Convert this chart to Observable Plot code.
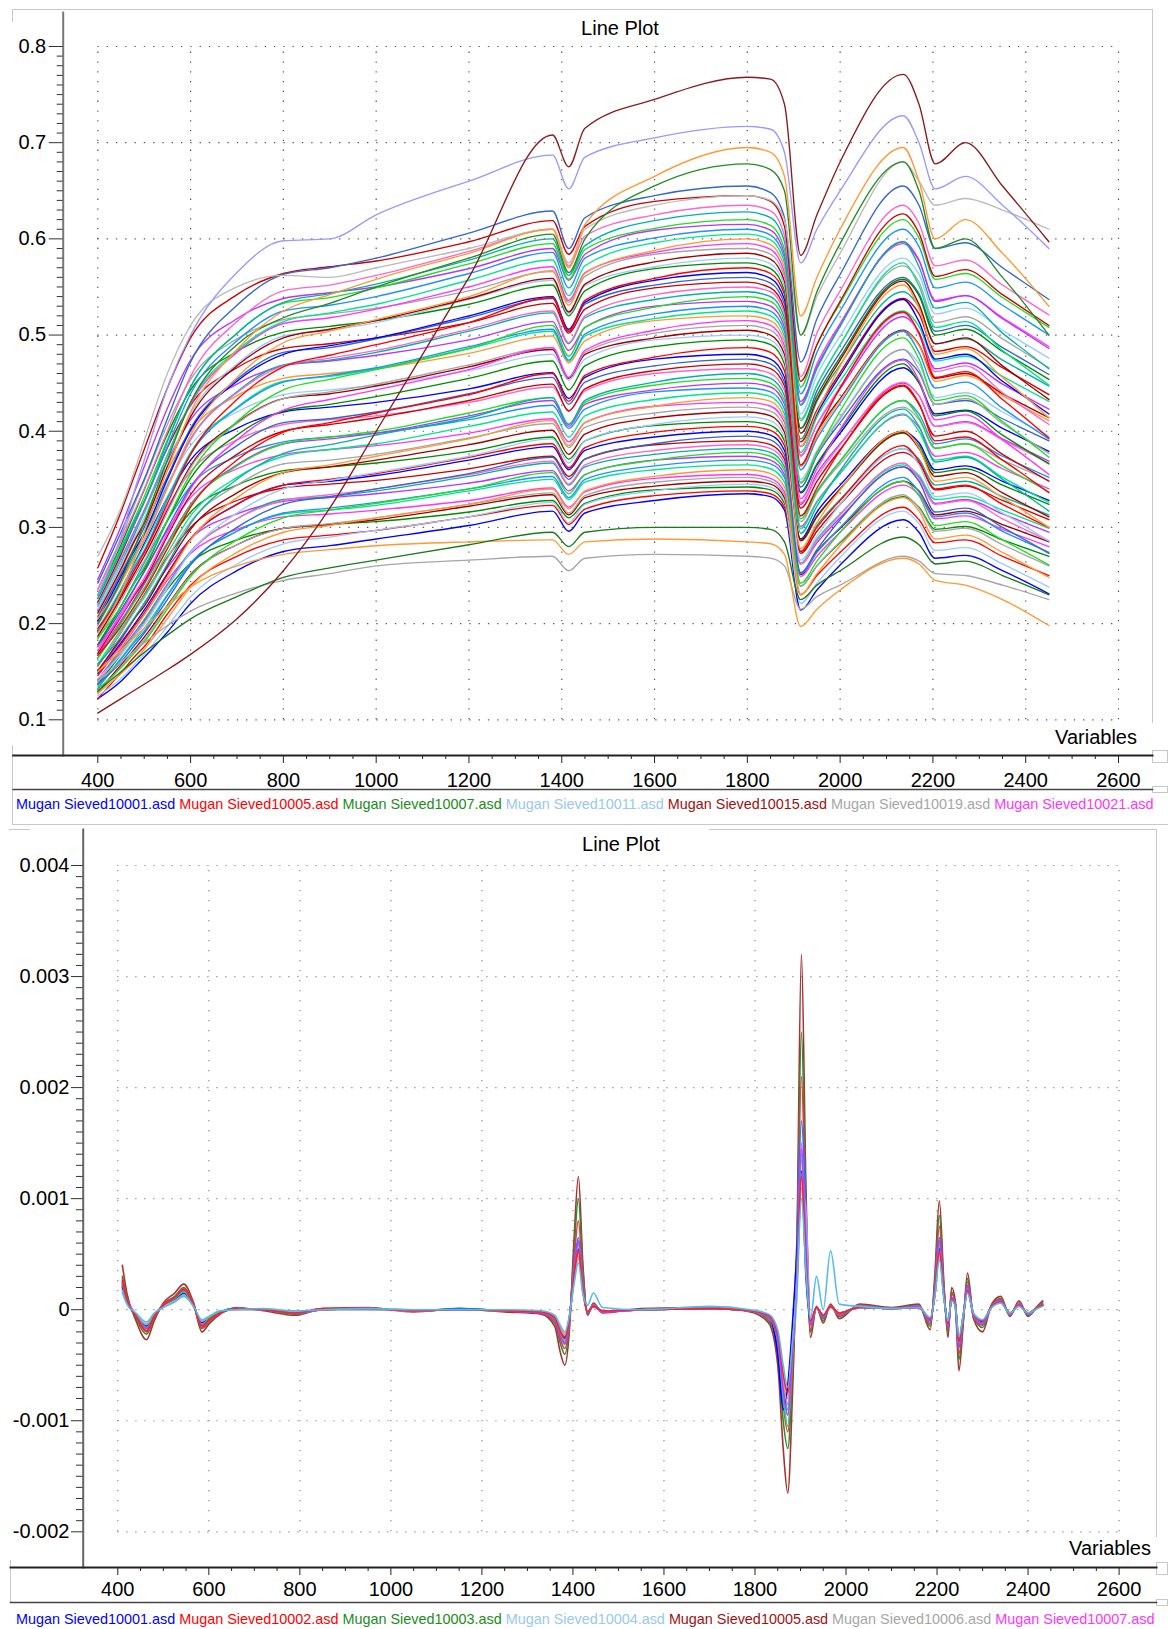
<!DOCTYPE html>
<html>
<head>
<meta charset="utf-8">
<script src="https://cdn.jsdelivr.net/npm/d3@7"></script>
<script src="https://cdn.jsdelivr.net/npm/@observablehq/plot@0.6"></script>
<style>
  body { margin: 0; background: #fff; }
  #wrap { position: relative; width: 1168px; height: 1629px; overflow: hidden; background: #fff;
          font-family: "Liberation Sans", Arial, sans-serif; color: #000; }
  .abs { position: absolute; }
  .ttl { font-size: 20px; line-height: 1; transform: translate(-50%, -50%); white-space: nowrap; }
  .var { font-size: 20px; line-height: 1; transform: translate(-100%, -50%); white-space: nowrap; }
  .leg { font-size: 14.4px; line-height: 1; transform: translateY(-50%); white-space: pre; }
  .hl { position: absolute; height: 0; border-top: 1px solid #c8c8c8; }
  .vl { position: absolute; width: 0; border-left: 1px solid #c8c8c8; }
  .bx { position: absolute; border: 1px solid #c8c8c8; background: #fff; box-sizing: border-box; }
</style>
</head>
<body>
<div id="wrap"></div>
<script>
// ---------------- TOP CHART DATA (reflectance spectra) ----------------
const topWavelengths = [400,450,480,500,550,600,700,800,900,1000,1200,1380,1415,1450,1600,1800,1850,1880,1915,1950,2000,2136,2170,2205,2270,2350,2450];

const t01 = [.122,.140,.155,.165,.191,.221,.255,.275,.281,.288,.302,.317,.296,.315,.328,.335,.332,.318,.214,.235,.261,.308,.295,.268,.271,.255,.231];
const t02 = [.122,.149,.166,.176,.210,.240,.270,.287,.292,.297,.311,.323,.303,.319,.333,.338,.335,.321,.230,.250,.274,.321,.308,.284,.287,.270,.250];
const t03 = [.137,.168,.188,.202,.236,.263,.287,.299,.303,.306,.316,.328,.310,.325,.339,.342,.339,.325,.239,.260,.284,.332,.321,.298,.301,.287,.270];
const t04 = [.125,.143,.158,.168,.197,.228,.262,.283,.290,.297,.311,.326,.305,.324,.338,.345,.342,.328,.221,.242,.269,.317,.304,.276,.279,.262,.238];
const t05 = [.129,.157,.174,.186,.219,.251,.282,.299,.303,.308,.322,.334,.313,.331,.343,.348,.345,.331,.251,.275,.299,.348,.338,.313,.317,.303,.285];
const t06 = [.127,.155,.172,.183,.218,.250,.282,.299,.304,.310,.324,.336,.315,.333,.347,.352,.348,.334,.239,.260,.285,.334,.320,.296,.299,.282,.260];
const t07 = [.142,.174,.195,.209,.245,.273,.298,.311,.314,.318,.328,.341,.321,.337,.351,.355,.351,.337,.249,.270,.295,.344,.334,.309,.312,.298,.280];
const t08 = [.128,.148,.162,.173,.205,.238,.274,.295,.302,.310,.324,.340,.319,.338,.353,.360,.356,.342,.230,.252,.281,.331,.317,.288,.292,.274,.248];
const t09 = [.135,.164,.183,.195,.230,.263,.296,.314,.318,.323,.338,.350,.329,.347,.360,.365,.361,.347,.263,.288,.314,.365,.354,.329,.332,.318,.299];
const t10 = [.133,.163,.181,.192,.229,.263,.296,.315,.320,.326,.340,.353,.331,.350,.364,.370,.366,.352,.252,.274,.300,.352,.337,.311,.315,.296,.274];
const t11 = [.150,.183,.206,.221,.258,.288,.314,.327,.331,.335,.346,.359,.338,.355,.370,.374,.370,.355,.262,.284,.310,.363,.352,.325,.329,.314,.295];
const t12 = [.132,.154,.170,.181,.215,.249,.287,.310,.318,.325,.340,.357,.335,.355,.370,.378,.374,.359,.242,.265,.295,.348,.333,.302,.306,.287,.261];
const t13 = [.141,.172,.191,.204,.241,.275,.309,.329,.332,.338,.353,.367,.344,.363,.376,.382,.378,.363,.275,.302,.329,.382,.371,.344,.348,.332,.313];
const t14 = [.139,.170,.189,.201,.239,.274,.309,.328,.334,.340,.355,.369,.345,.365,.380,.386,.382,.367,.262,.286,.313,.367,.351,.324,.328,.309,.286];
const t15 = [.156,.191,.215,.230,.269,.300,.328,.341,.345,.349,.361,.374,.353,.371,.386,.390,.386,.371,.273,.296,.324,.378,.367,.339,.343,.328,.308];
const t16 = [.137,.160,.178,.190,.225,.261,.300,.324,.332,.340,.356,.373,.350,.371,.387,.395,.391,.375,.253,.277,.308,.363,.348,.316,.320,.300,.273];
const t17 = [.148,.180,.200,.214,.252,.288,.324,.344,.348,.354,.370,.384,.360,.380,.394,.400,.396,.380,.288,.316,.344,.400,.388,.360,.364,.348,.328];
const t18 = [.146,.178,.198,.211,.251,.288,.324,.344,.350,.356,.373,.387,.362,.383,.399,.405,.401,.385,.275,.300,.328,.385,.369,.340,.344,.324,.300];
const t19 = [.164,.201,.226,.242,.283,.316,.344,.359,.363,.367,.379,.394,.371,.390,.406,.410,.406,.390,.287,.312,.340,.398,.385,.357,.361,.344,.324];
const t20 = [.143,.168,.187,.199,.237,.274,.315,.340,.349,.357,.374,.392,.367,.390,.407,.415,.411,.394,.266,.291,.324,.382,.365,.332,.336,.315,.286];
const t21 = [.151,.185,.206,.218,.260,.298,.336,.357,.363,.370,.386,.401,.376,.397,.414,.420,.416,.399,.286,.311,.340,.399,.382,.353,.357,.336,.311];
const t22 = [.157,.191,.213,.227,.268,.306,.344,.366,.370,.376,.393,.408,.383,.404,.419,.425,.421,.404,.306,.336,.366,.425,.412,.383,.387,.370,.349];
const t23 = [.172,.211,.237,.254,.297,.331,.361,.376,.381,.385,.398,.413,.389,.409,.426,.430,.426,.409,.301,.327,.357,.417,.404,.374,.378,.361,.340];
const t24 = [.150,.176,.196,.209,.248,.287,.331,.357,.365,.374,.392,.411,.385,.409,.426,.435,.431,.413,.278,.305,.339,.400,.383,.348,.352,.331,.300];
const t25 = [.158,.194,.216,.229,.273,.312,.352,.374,.381,.387,.405,.420,.394,.416,.433,.440,.436,.418,.299,.326,.356,.418,.400,.370,.374,.352,.326];
const t26 = [.178,.218,.245,.263,.307,.343,.374,.389,.394,.398,.412,.427,.403,.423,.441,.445,.441,.423,.312,.338,.369,.432,.418,.387,.392,.374,.352];
const t27 = [.167,.203,.225,.241,.284,.324,.365,.387,.392,.398,.416,.432,.405,.428,.443,.450,.446,.428,.324,.356,.387,.450,.437,.405,.410,.392,.369];
const t28 = [.164,.200,.223,.237,.282,.323,.364,.387,.394,.400,.419,.435,.407,.430,.448,.455,.450,.432,.309,.337,.369,.432,.414,.382,.387,.364,.337];
const t29 = [.158,.186,.207,.221,.262,.304,.350,.377,.386,.396,.414,.435,.407,.432,.451,.460,.455,.437,.294,.322,.359,.423,.405,.368,.373,.350,.317];
const t30 = [.186,.228,.256,.274,.321,.358,.391,.407,.412,.416,.430,.446,.421,.442,.460,.465,.460,.442,.326,.353,.386,.451,.437,.405,.409,.391,.367];
const t31 = [.169,.207,.230,.244,.291,.334,.376,.400,.407,.414,.432,.449,.421,.444,.463,.470,.465,.447,.320,.348,.381,.447,.428,.395,.400,.376,.348];
const t32 = [.176,.214,.238,.254,.299,.342,.385,.409,.413,.420,.439,.456,.428,.451,.468,.475,.470,.451,.342,.375,.409,.475,.461,.428,.432,.413,.390];
const t33 = [.192,.235,.264,.283,.331,.370,.403,.420,.425,.430,.444,.461,.434,.456,.475,.480,.475,.456,.336,.365,.398,.466,.451,.418,.422,.403,.379];
const t34 = [.167,.197,.219,.234,.278,.321,.370,.399,.409,.419,.438,.460,.431,.458,.477,.487,.482,.463,.312,.341,.380,.448,.429,.390,.394,.370,.336];
const t35 = [.178,.218,.243,.257,.307,.351,.396,.421,.428,.436,.455,.473,.443,.468,.488,.495,.490,.470,.337,.366,.401,.470,.450,.416,.421,.396,.366];
const t36 = [.200,.245,.275,.295,.345,.385,.420,.438,.443,.448,.463,.480,.453,.475,.495,.500,.495,.475,.350,.380,.415,.485,.470,.435,.440,.420,.395];
const t37 = [.187,.227,.253,.270,.318,.364,.409,.434,.439,.447,.467,.485,.455,.480,.497,.505,.500,.480,.364,.399,.434,.505,.490,.455,.460,.439,.414];
const t38 = [.184,.224,.250,.265,.316,.362,.408,.434,.441,.449,.469,.487,.456,.482,.502,.510,.505,.485,.347,.377,.413,.485,.464,.428,.434,.408,.377];
const t39 = [.176,.208,.232,.247,.294,.340,.391,.422,.433,.443,.464,.487,.456,.484,.505,.515,.510,.489,.330,.361,.402,.474,.453,.412,.417,.391,.355];
const t40 = [.208,.255,.286,.307,.359,.400,.437,.455,.460,.465,.481,.499,.471,.494,.515,.520,.515,.494,.364,.395,.432,.504,.489,.452,.458,.437,.411];
const t41 = [.194,.236,.263,.281,.331,.378,.425,.452,.457,.465,.486,.504,.473,.499,.517,.525,.520,.499,.378,.415,.452,.525,.509,.473,.478,.457,.431];
const t42 = [.191,.233,.260,.276,.329,.376,.424,.451,.458,.466,.488,.506,.474,.501,.522,.530,.525,.504,.360,.392,.429,.504,.482,.445,.451,.424,.392];
const t43 = [.214,.262,.294,.316,.369,.412,.449,.468,.473,.479,.495,.514,.484,.508,.530,.535,.530,.508,.375,.407,.444,.519,.503,.465,.471,.449,.423];
const t44 = [.185,.218,.243,.259,.308,.356,.410,.443,.454,.464,.486,.510,.478,.508,.529,.540,.535,.513,.346,.378,.421,.497,.475,.432,.437,.410,.373];
const t45 = [.202,.245,.273,.292,.343,.392,.441,.469,.474,.482,.504,.523,.491,.518,.537,.545,.540,.518,.392,.431,.469,.545,.529,.491,.496,.474,.447];
const t46 = [.198,.242,.270,.286,.341,.391,.440,.468,.476,.484,.506,.525,.492,.520,.542,.550,.545,.523,.374,.407,.446,.523,.501,.462,.468,.440,.407];
const t47 = [.222,.272,.305,.327,.383,.427,.466,.486,.491,.497,.513,.533,.502,.527,.549,.555,.549,.527,.389,.422,.461,.538,.522,.483,.488,.466,.438];
const t48 = [.207,.252,.280,.300,.353,.403,.454,.482,.487,.496,.518,.538,.504,.532,.552,.560,.554,.532,.403,.442,.482,.560,.543,.504,.510,.487,.459];
const t49 = [.203,.249,.277,.294,.350,.401,.452,.480,.489,.497,.520,.540,.506,.534,.557,.565,.559,.537,.384,.418,.458,.537,.514,.475,.480,.452,.418];
const t50 = [.195,.230,.257,.274,.325,.376,.433,.467,.479,.490,.513,.539,.504,.536,.559,.570,.564,.542,.365,.399,.445,.524,.502,.456,.462,.433,.393];
const t51 = [.230,.282,.316,.339,.397,.443,.483,.503,.509,.515,.532,.552,.520,.546,.569,.575,.569,.546,.403,.437,.477,.558,.541,.500,.506,.483,.454];
const t52 = [.215,.261,.290,.310,.365,.418,.470,.499,.505,.513,.537,.557,.522,.551,.571,.580,.574,.551,.418,.458,.499,.580,.563,.522,.528,.505,.476];
const t53 = [.211,.257,.287,.304,.363,.415,.468,.497,.506,.515,.538,.559,.524,.553,.576,.585,.579,.556,.398,.433,.474,.556,.532,.491,.497,.468,.433];
const t54 = [.236,.289,.325,.348,.407,.454,.496,.516,.522,.528,.546,.566,.534,.561,.584,.590,.584,.561,.413,.448,.490,.572,.555,.513,.519,.496,.466];
const t55 = [.220,.268,.298,.318,.375,.428,.482,.512,.518,.527,.550,.571,.536,.565,.586,.595,.589,.565,.428,.470,.512,.595,.577,.536,.541,.518,.488];
const t56 = [.205,.243,.270,.288,.342,.396,.456,.492,.504,.516,.540,.567,.531,.564,.588,.600,.594,.570,.384,.420,.468,.552,.528,.480,.486,.456,.414];
const t57 = [.218,.266,.296,.315,.375,.430,.484,.514,.523,.532,.557,.578,.541,.572,.596,.605,.599,.575,.411,.448,.490,.575,.551,.508,.514,.484,.448];
const t58 = [.226,.275,.305,.326,.384,.439,.494,.525,.531,.540,.564,.586,.549,.580,.601,.610,.604,.580,.439,.482,.525,.610,.592,.549,.555,.531,.500];
const t59 = [.246,.301,.338,.363,.424,.474,.517,.538,.544,.550,.569,.590,.557,.584,.609,.615,.609,.584,.431,.467,.510,.597,.578,.535,.541,.517,.486];
const t60 = [.229,.279,.310,.332,.391,.446,.502,.533,.539,.549,.574,.595,.558,.589,.611,.620,.614,.589,.446,.490,.533,.620,.601,.558,.564,.539,.508];
const t61 = [.226,.276,.308,.327,.389,.446,.502,.534,.543,.553,.578,.600,.562,.593,.619,.628,.622,.597,.427,.465,.509,.597,.571,.528,.534,.502,.465];
const t62 = [.235,.286,.318,.340,.400,.457,.514,.546,.552,.562,.587,.610,.572,.603,.625,.635,.629,.603,.457,.502,.546,.635,.616,.572,.578,.552,.521];
const t63 = [.258,.316,.355,.381,.445,.497,.542,.564,.571,.577,.597,.619,.584,.613,.639,.645,.639,.613,.452,.490,.535,.626,.606,.561,.568,.542,.510];
const t64 = [.242,.295,.328,.350,.413,.472,.531,.563,.570,.580,.606,.629,.590,.622,.645,.655,.648,.622,.472,.517,.563,.655,.635,.590,.596,.570,.537];
// distinct outlying spectra
const lowGray    = [.140,.160,.172,.180,.198,.213,.232,.245,.252,.260,.266,.270,.255,.268,.272,.270,.268,.260,.215,.228,.240,.270,.265,.252,.250,.240,.225];
const lowOrange  = [.150,.172,.186,.195,.218,.238,.260,.272,.277,.281,.285,.287,.272,.285,.288,.285,.283,.272,.197,.215,.235,.268,.262,.245,.240,.225,.198];
const lowGreen   = [.130,.150,.162,.170,.188,.205,.228,.248,.258,.266,.282,.295,.280,.295,.300,.300,.298,.285,.225,.240,.255,.290,.282,.262,.265,.250,.230];
const highGray   = [.270,.320,.360,.390,.460,.510,.550,.562,.560,.570,.590,.610,.575,.610,.635,.645,.640,.620,.500,.540,.585,.680,.660,.635,.642,.630,.610];
const highGreen  = [.200,.245,.280,.305,.370,.430,.490,.518,.533,.550,.580,.605,.565,.600,.655,.678,.672,.650,.500,.545,.595,.680,.650,.590,.600,.560,.500];
const highOrange = [.190,.232,.268,.295,.360,.420,.485,.525,.542,.558,.585,.610,.570,.615,.665,.695,.690,.665,.520,.560,.610,.695,.660,.600,.620,.585,.530];
const lavender   = [.230,.290,.340,.370,.445,.500,.565,.598,.600,.625,.660,.687,.652,.685,.705,.717,.714,.690,.575,.610,.650,.728,.700,.652,.665,.635,.590];
const maroon     = [.107,.122,.131,.137,.152,.168,.205,.255,.320,.400,.560,.708,.675,.715,.745,.768,.766,.740,.583,.625,.680,.771,.740,.678,.700,.655,.597];

const bulkSeries = [t01,t02,t03,t04,t05,t06,t07,t08,t09,t10,t11,t12,t13,t14,t15,t16,t17,t18,t19,t20,t21,t22,t23,t24,t25,t26,t27,t28,t29,t30,t31,t32,
                    t33,t34,t35,t36,t37,t38,t39,t40,t41,t42,t43,t44,t45,t46,t47,t48,t49,t50,t51,t52,t53,t54,t55,t56,t57,t58,t59,t60,t61,t62,t63,t64];
const bulkPalette = ["#0000ff","#ff0000","#008c00","#99ccff","#a00000","#a6a6a6","#ff33ff","#ff9933","#00e68a","#1e90ff","#bb33ff","#22dd22","#00b3a1","#ff66cc","#cc0000","#3366cc"];
const specialSeries = [lowGray, lowOrange, lowGreen, highGray, highGreen, highOrange, lavender, maroon];
const specialColors = ["#a6a6a6","#ff9933","#1a7a1a","#bbbbbb","#228b22","#ff9933","#9999ff","#8b1a1a"];

const topXTicks = [400,600,800,1000,1200,1400,1600,1800,2000,2200,2400,2600];
const topXTickLabels = ["400","600","800","1000","1200","1400","1600","1800","2000","2200","2400","2600"];
const topYTicks = [0.1,0.2,0.3,0.4,0.5,0.6,0.7,0.8];
const topYTickLabels = ["0.1","0.2","0.3","0.4","0.5","0.6","0.7","0.8"];
const topLegendNames = ["Mugan Sieved10001.asd","Mugan Sieved10005.asd","Mugan Sieved10007.asd","Mugan Sieved10011.asd","Mugan Sieved10015.asd","Mugan Sieved10019.asd","Mugan Sieved10021.asd"];

// ---------------- BOTTOM CHART DATA (first derivative, in units of 1e-4) ----------------
const derivUnit = 1e-4;
const botWavelengths = [410,420,440,463,480,500,525,545,565,585,
                        600,625,660,720,790,850,950,1050,1150,1250,
                        1330,1360,1372,1382,1392,1402,1412,1422,1432,1445,
                        1465,1550,1700,1790,1830,1850,1862,1872,1882,1892,
                        1902,1912,1922,1935,1950,1966,1985,2030,2100,2160,
                        2185,2195,2205,2215,2224,2232,2240,2248,2258,2267,
                        2280,2300,2320,2340,2360,2380,2400,2420,2432];

const d01 = [4.0,1.5,-1.0,-2.7,-1.0,0.6,1.5,2.3,0.8,-2.0,
             -1.3,-0.4,0.2,-0.1,-0.5,0.1,0.2,-0.2,0.1,-0.2,
             -0.4,-1.5,-3.8,-5.0,-2.0,6.0,12.0,4.0,-0.5,0.6,
             -0.3,0.1,0.2,-0.2,-1.2,-5.0,-12.5,-16.5,-8.0,6.0,
             32.0,11.0,-2.5,0.3,-1.2,0.5,-0.8,0.5,0.2,0.5,
             -1.8,3.0,9.8,2.5,-2.5,2.0,0.8,-5.5,-1.0,3.3,
             -0.8,-2.0,0.5,1.2,-0.6,0.8,-0.6,0.3,0.8];
const d02 = [3.0,1.2,-0.8,-2.2,-0.8,0.5,1.2,2.0,0.7,-1.7,
             -1.1,-0.3,0.1,0.0,-0.4,0.0,0.1,-0.1,0.1,-0.1,
             -0.3,-1.2,-3.0,-4.0,-1.5,5.0,10.0,3.5,-0.4,0.5,
             -0.2,0.0,0.1,-0.1,-1.0,-4.0,-10.0,-12.5,-6.0,5.0,
             25.0,9.0,-2.0,0.2,-1.0,0.4,-0.6,0.4,0.1,0.4,
             -1.5,2.5,8.5,2.0,-2.0,1.6,0.6,-4.5,-0.8,2.8,
             -0.6,-1.6,0.4,1.0,-0.5,0.6,-0.5,0.2,0.7];
const d03 = [2.8,1.0,-0.6,-2.0,-0.7,0.5,1.1,1.9,0.7,-1.6,
             -1.0,-0.3,0.1,0.0,-0.3,0.1,0.1,-0.1,0.0,-0.1,
             -0.3,-1.0,-2.6,-3.5,-1.2,4.2,8.0,2.8,-0.3,0.5,
             -0.2,0.0,0.1,-0.1,-0.8,-3.2,-8.5,-11.0,-5.0,4.5,
             21.0,7.5,-1.8,0.2,-0.8,0.4,-0.5,0.4,0.1,0.3,
             -1.3,2.0,7.5,1.8,-1.8,1.4,0.6,-4.0,-0.7,2.5,
             -0.6,-1.4,0.4,0.9,-0.5,0.6,-0.4,0.2,0.6];
const d04 = [2.4,0.8,-0.5,-1.7,-0.5,0.4,1.0,1.6,0.6,-1.3,
             -0.8,-0.2,0.1,0.0,-0.3,0.0,0.1,-0.1,0.1,-0.1,
             -0.2,-0.8,-2.2,-3.0,-1.0,3.6,6.5,2.2,-0.3,0.4,
             -0.2,0.0,0.1,-0.1,-0.7,-3.4,-8.5,-8.5,-3.5,6.0,
             17.0,9.0,-1.4,0.2,-0.7,0.3,-0.4,0.3,0.1,0.3,
             -1.1,1.7,6.5,1.6,-1.6,1.1,0.5,-3.4,-0.6,2.2,
             -0.5,-1.3,0.3,0.8,-0.4,0.5,-0.4,0.2,0.5];
const d05 = [2.2,0.9,-0.4,-1.6,-0.5,0.4,1.0,1.7,0.5,-1.4,
             -0.9,-0.3,0.1,0.0,-0.2,0.0,0.1,-0.1,0.0,-0.1,
             -0.2,-0.7,-2.0,-2.8,-0.9,3.2,6.0,2.0,-0.2,0.3,
             -0.2,0.0,0.1,-0.1,-0.6,-2.6,-7.0,-9.5,-4.2,3.2,
             15.0,5.5,-1.3,0.2,-0.6,0.3,-0.4,0.3,0.1,0.3,
             -1.0,1.6,6.0,1.5,-1.5,1.0,0.5,-3.2,-0.5,2.0,
             -0.5,-1.2,0.3,0.8,-0.4,0.5,-0.4,0.2,0.5];
const d06 = [2.0,0.7,-0.5,-1.5,-0.5,0.3,0.9,1.5,0.5,-1.2,
             -0.8,-0.2,0.1,0.0,-0.2,0.0,0.1,-0.1,0.0,-0.1,
             -0.2,-0.7,-1.9,-2.6,-0.8,3.0,5.5,1.8,-0.2,0.4,
             -0.1,0.0,0.1,-0.1,-0.6,-2.4,-6.5,-9.0,-4.0,3.0,
             14.0,5.0,-1.2,0.2,-0.6,0.3,-0.3,0.3,0.1,0.2,
             -0.9,1.5,5.5,1.4,-1.4,1.0,0.4,-3.0,-0.5,1.9,
             -0.4,-1.1,0.3,0.7,-0.4,0.4,-0.3,0.2,0.4];
const d07 = [1.9,0.6,-0.4,-1.4,-0.4,0.3,0.8,1.4,0.4,-1.1,
             -0.7,-0.2,0.1,0.0,-0.2,0.0,0.0,-0.1,0.0,-0.1,
             -0.2,-0.6,-1.8,-2.4,-0.8,2.8,5.2,1.7,-0.2,0.3,
             -0.1,0.0,0.1,-0.1,-0.5,-2.2,-6.2,-8.5,-3.8,1.0,
             11.0,9.0,-1.1,0.2,-0.5,0.3,-0.3,0.2,0.1,0.2,
             -0.8,1.4,5.2,1.3,-1.3,0.9,0.4,-2.8,-0.4,1.8,
             -0.4,-1.0,0.3,0.7,-0.3,0.4,-0.3,0.2,0.4];
const d08 = [1.8,0.6,-0.4,-1.3,-0.4,0.3,0.8,1.3,0.4,-1.0,
             -0.7,-0.2,0.0,0.0,-0.2,0.0,0.1,0.0,0.0,-0.1,
             -0.2,-0.6,-1.6,-2.2,-0.7,2.6,4.8,1.6,-0.2,0.3,
             -0.1,0.0,0.1,-0.1,-0.5,-2.0,-6.0,-8.0,-3.5,2.6,
             12.0,4.3,-1.0,0.1,-0.5,0.2,-0.3,0.2,0.1,0.2,
             -0.8,1.3,5.0,1.2,-1.2,0.9,0.4,-2.6,-0.4,1.7,
             -0.4,-1.0,0.3,0.6,-0.3,0.4,-0.3,0.1,0.4];
const d09 = [2.1,0.7,-0.5,-1.5,-0.5,0.3,0.9,1.5,0.5,-1.2,
             -0.8,-0.2,0.1,0.0,-0.2,0.0,0.1,-0.1,0.0,-0.1,
             -0.2,-0.7,-1.8,-2.5,-0.8,2.9,5.4,1.8,-0.2,0.3,
             -0.1,0.0,0.1,-0.1,-0.6,-4.0,-9.0,-6.8,-1.5,5.0,
             12.5,3.0,-1.1,0.2,-0.5,0.3,-0.3,0.2,0.1,0.2,
             -0.9,1.4,5.5,1.3,-1.3,0.9,0.4,-2.9,-0.5,1.8,
             -0.4,-1.1,0.3,0.7,-0.3,0.4,-0.3,0.2,0.4];
const d10 = [1.5,0.5,-0.3,-1.1,-0.3,0.2,0.7,1.2,0.4,-0.9,
             -0.6,-0.1,0.0,0.1,-0.1,0.0,0.1,0.0,0.0,0.0,
             -0.1,-0.5,-1.4,-2.0,-0.6,2.2,4.2,1.4,0.4,1.5,
             0.2,0.0,0.3,0.0,-0.4,-1.8,-5.0,-7.0,-3.0,2.2,
             10.0,3.5,-0.8,3.0,0.0,5.3,0.5,0.3,0.1,0.2,
             -0.7,1.1,4.5,1.0,-1.0,0.8,0.3,-2.4,-0.4,1.5,
             -0.3,-0.9,0.2,0.6,-0.3,0.3,-0.3,0.1,0.3];
const d11 = [1.7,0.6,-0.4,-1.3,-0.4,0.3,0.8,1.3,0.4,-1.0,
             -0.7,-0.2,0.0,0.0,-0.2,0.0,0.0,-0.1,0.0,-0.1,
             -0.2,-0.6,-1.7,-2.3,-0.7,2.5,4.6,1.5,-0.2,0.3,
             -0.1,0.0,0.1,-0.1,-0.6,-2.4,-6.5,-8.5,-3.6,2.5,
             11.0,4.0,-1.0,0.1,-0.5,0.2,-0.3,0.2,0.1,0.2,
             -0.8,1.2,4.8,1.2,-1.2,0.8,0.4,-2.6,-0.4,1.6,
             -0.4,-1.0,0.2,0.6,-0.3,0.4,-0.3,0.1,0.4];
const d12 = [2.3,0.8,-0.5,-1.6,-0.5,0.4,1.0,1.6,0.5,-1.3,
             -0.8,-0.2,0.1,0.0,-0.3,0.0,0.1,-0.1,0.0,-0.1,
             -0.2,-0.8,-2.1,-2.8,-0.9,3.2,5.8,1.9,-0.2,0.4,
             -0.1,0.0,0.1,-0.1,-0.7,-2.8,-7.8,-10.5,-4.5,3.0,
             13.5,4.8,-1.2,0.2,-0.6,0.3,-0.4,0.3,0.1,0.3,
             -1.0,1.5,5.8,1.4,-1.4,1.0,0.5,-3.1,-0.5,1.9,
             -0.5,-1.2,0.3,0.7,-0.4,0.5,-0.4,0.2,0.5];
const d13 = [2.5,0.9,-0.5,-1.7,-0.6,0.4,1.1,1.8,0.6,-1.4,
             -0.9,-0.3,0.1,0.0,-0.3,0.0,0.1,-0.1,0.0,-0.1,
             -0.3,-0.9,-2.3,-3.1,-1.0,3.4,6.2,2.0,-0.3,0.4,
             -0.2,0.0,0.1,-0.1,-0.7,-2.7,-7.2,-9.5,-4.2,3.3,
             14.5,5.2,-1.3,0.2,-0.6,0.3,-0.4,0.3,0.1,0.3,
             -1.0,1.6,6.2,1.5,-1.5,1.1,0.5,-3.3,-0.5,2.1,
             -0.5,-1.2,0.3,0.8,-0.4,0.5,-0.4,0.2,0.5];
const d14 = [2.6,0.9,-0.6,-1.9,-0.6,0.4,1.1,1.8,0.6,-1.5,
             -0.9,-0.3,0.1,0.0,-0.3,0.1,0.1,-0.1,0.0,-0.1,
             -0.2,-0.7,-1.9,-2.6,-0.8,2.9,5.3,1.8,-0.2,0.3,
             -0.1,0.0,0.1,-0.1,-0.5,-2.2,-5.8,-7.5,-3.4,2.6,
             12.0,4.4,-1.0,0.2,-0.5,0.3,-0.3,0.2,0.1,0.2,
             -0.8,1.3,5.2,1.3,-1.3,0.9,0.4,-2.8,-0.4,1.7,
             -0.4,-1.0,0.3,0.7,-0.3,0.4,-0.3,0.2,0.4];

const botSeries = [d01,d02,d03,d04,d05,d06,d07,d08,d09,d11,d12,d13,d14,d10];
const botColors = ["#a83232","#2e8b2e","#e04040","#1e78ff","#ff33ff","#00cccc","#9999ff","#ff9933","#0000ff","#aaaaaa","#00e68a","#cc33ff","#ff2020","#55bbee"];

const botXTicks = [400,600,800,1000,1200,1400,1600,1800,2000,2200,2400,2600];
const botXTickLabels = ["400","600","800","1000","1200","1400","1600","1800","2000","2200","2400","2600"];
const botYTicks = [-0.002,-0.001,0,0.001,0.002,0.003,0.004];
const botYTickLabels = ["-0.002","-0.001","0","0.001","0.002","0.003","0.004"];
const botLegendNames = ["Mugan Sieved10001.asd","Mugan Sieved10002.asd","Mugan Sieved10003.asd","Mugan Sieved10004.asd","Mugan Sieved10005.asd","Mugan Sieved10006.asd","Mugan Sieved10007.asd"];

const legendColors = ["#0000ff","#ff0000","#1a8c1a","#99c8f0","#a01010","#a6a6a6","#ff33ff"];

// ---------------- checks ----------------
const allTop = bulkSeries.concat(specialSeries);
allTop.forEach((s,i)=>{ if (s.length !== topWavelengths.length) throw new Error("top series " + (i+1) + " has " + s.length); });
botSeries.forEach((s,i)=>{ if (s.length !== botWavelengths.length) throw new Error("bottom series " + i + " has " + s.length); });

// ---------------- build tables ----------------
const topColorsAll = bulkSeries.map((_, i) => bulkPalette[i % bulkPalette.length]).concat(specialColors);
const topRows = allTop.flatMap((vals, i) => vals.map((v, j) => ({id: i, wl: topWavelengths[j], v, color: topColorsAll[i]})));
const botRows = botSeries.flatMap((vals, i) => vals.map((v, j) => ({id: i, wl: botWavelengths[j], v: v * derivUnit, color: botColors[i]})));

const xMinor = d3.range(400, 2601, 50).filter(d => d % 200 !== 0);
const topYMinor = d3.range(10, 81).filter(i => i % 10 !== 0).map(i => i / 100);
const botYMinor = d3.range(-20, 41).filter(i => i % 10 !== 0).map(i => i / 10000);

const labelOf = (ticks, labels) => { const m = new Map(ticks.map((t, i) => [t, labels[i]])); return d => m.get(d); };

const font = '"Liberation Sans", Arial, sans-serif';
const wrap = document.getElementById("wrap");

// ---------------- TOP PLOT ----------------
const topPlot = Plot.plot({
  width: 1168, height: 792,
  marginLeft: 62.7, marginRight: 16, marginTop: 12, marginBottom: 37,
  x: {domain: [400, 2600], range: [97.3, 1118], label: null},
  y: {domain: [0.1, 0.8], range: [719.3, 46], label: null},
  color: {type: "identity"},
  style: {fontFamily: font, fontSize: "20px", color: "#000", background: "transparent", overflow: "visible"},
  marks: [
    Plot.ruleY(topYTicks, {x1: 400, x2: 2600, stroke: "#555", strokeWidth: 1.2, strokeDasharray: "1.3,8"}),
    Plot.ruleX(topXTicks, {y1: 0.1, y2: 0.8, stroke: "#555", strokeWidth: 1.2, strokeDasharray: "1.3,8.5"}),
    Plot.line(topRows, {x: "wl", y: "v", z: "id", stroke: "color", strokeWidth: 1.35, curve: "monotone-x"}),
    Plot.frame({anchor: "left", stroke: "#777", strokeWidth: 2}),
    Plot.frame({anchor: "bottom", insetLeft: -50, stroke: "#222", strokeWidth: 2}),
    Plot.frame({anchor: "bottom", insetLeft: -50, insetBottom: -34, stroke: "#444", strokeWidth: 1.5}),
    Plot.axisY({anchor: "left", ticks: topYTicks, tickSize: 14, tickPadding: 3, tickFormat: labelOf(topYTicks, topYTickLabels), fontSize: 20, label: null, stroke: "#333"}),
    Plot.axisY({anchor: "left", ticks: topYMinor, tickSize: 6, fill: "none", label: null, stroke: "#333"}),
    Plot.axisX({anchor: "bottom", ticks: topXTicks, tickSize: 8, tickPadding: 9, tickFormat: labelOf(topXTicks, topXTickLabels), fontSize: 20, label: null, stroke: "#222"}),
    Plot.axisX({anchor: "bottom", ticks: xMinor, tickSize: 4, fill: "none", label: null, stroke: "#222"})
  ]
});
topPlot.style.position = "absolute"; topPlot.style.left = "0px"; topPlot.style.top = "0px";

// ---------------- BOTTOM PLOT ----------------
const botTop = 829;
const botPlot = Plot.plot({
  width: 1168, height: 776,
  marginLeft: 82.7, marginRight: 12, marginTop: 0, marginBottom: 38,
  x: {domain: [400, 2600], range: [117.3, 1118.6], label: null},
  y: {domain: [-0.002, 0.004], range: [702.3, 36], label: null},
  color: {type: "identity"},
  style: {fontFamily: font, fontSize: "20px", color: "#000", background: "transparent", overflow: "visible"},
  marks: [
    Plot.ruleY(botYTicks, {x1: 400, x2: 2600, stroke: "#8a8a8a", strokeWidth: 1.2, strokeDasharray: "1.2,7.8"}),
    Plot.ruleX(botXTicks, {y1: -0.002, y2: 0.004, stroke: "#8a8a8a", strokeWidth: 1.2, strokeDasharray: "1.2,8.8"}),
    Plot.line(botRows, {x: "wl", y: "v", z: "id", stroke: "color", strokeWidth: 1.6, curve: "monotone-x"}),
    Plot.frame({anchor: "left", stroke: "#666", strokeWidth: 2}),
    Plot.frame({anchor: "bottom", insetLeft: -72.7, stroke: "#222", strokeWidth: 2}),
    Plot.frame({anchor: "bottom", insetLeft: -72.7, insetBottom: -35, stroke: "#444", strokeWidth: 1.5}),
    Plot.axisY({anchor: "left", ticks: botYTicks, tickSize: 11.7, tickPadding: 2, tickFormat: labelOf(botYTicks, botYTickLabels), fontSize: 20, label: null, stroke: "#333"}),
    Plot.axisY({anchor: "left", ticks: botYMinor, tickSize: 6.7, fill: "none", label: null, stroke: "#333"}),
    Plot.axisX({anchor: "bottom", ticks: botXTicks, tickSize: 8, tickPadding: 6, tickFormat: labelOf(botXTicks, botXTickLabels), fontSize: 20, label: null, stroke: "#222"}),
    Plot.axisX({anchor: "bottom", ticks: xMinor, tickSize: 4, fill: "none", label: null, stroke: "#222"})
  ]
});
botPlot.style.position = "absolute"; botPlot.style.left = "0px"; botPlot.style.top = botTop + "px";

// ---------------- decorations (window frames) ----------------
function hline(x, y, w) { const d = document.createElement("div"); d.className = "hl"; d.style.left = x + "px"; d.style.top = y + "px"; d.style.width = w + "px"; wrap.appendChild(d); }
function vline(x, y, h) { const d = document.createElement("div"); d.className = "vl"; d.style.left = x + "px"; d.style.top = y + "px"; d.style.height = h + "px"; wrap.appendChild(d); }
function box(x, y, w, h) { const d = document.createElement("div"); d.className = "bx"; d.style.left = x + "px"; d.style.top = y + "px"; d.style.width = w + "px"; d.style.height = h + "px"; wrap.appendChild(d); }

hline(12, 9, 1140); vline(12, 9, 13); vline(1152, 9, 714);
vline(12, 745, 79); hline(12, 824, 1156);
box(1152, 750, 16, 13); box(1152, 786, 16, 7);

hline(9, 829, 21); hline(709, 829, 447); vline(1156, 829, 708);
vline(10, 1560, 42);
box(1156, 1562, 12, 13); box(1156, 1599, 12, 7);

wrap.appendChild(topPlot);
wrap.appendChild(botPlot);

function text(cls, str, x, y) { const d = document.createElement("div"); d.className = "abs " + cls; d.textContent = str; d.style.left = x + "px"; d.style.top = y + "px"; wrap.appendChild(d); return d; }
text("ttl", "Line Plot", 620, 28);
text("ttl", "Line Plot", 621, 844);
text("var", "Variables", 1137, 737);
text("var", "Variables", 1151, 1548);

function legend(names, y) {
  const d = document.createElement("div");
  d.className = "abs leg"; d.style.left = "16px"; d.style.top = y + "px";
  names.forEach((n, i) => {
    const s = document.createElement("span"); s.textContent = n; s.style.color = legendColors[i]; d.appendChild(s);
    if (i < names.length - 1) d.appendChild(document.createTextNode(" "));
  });
  wrap.appendChild(d);
}
legend(topLegendNames, 804);
legend(botLegendNames, 1619);
</script>
</body>
</html>
